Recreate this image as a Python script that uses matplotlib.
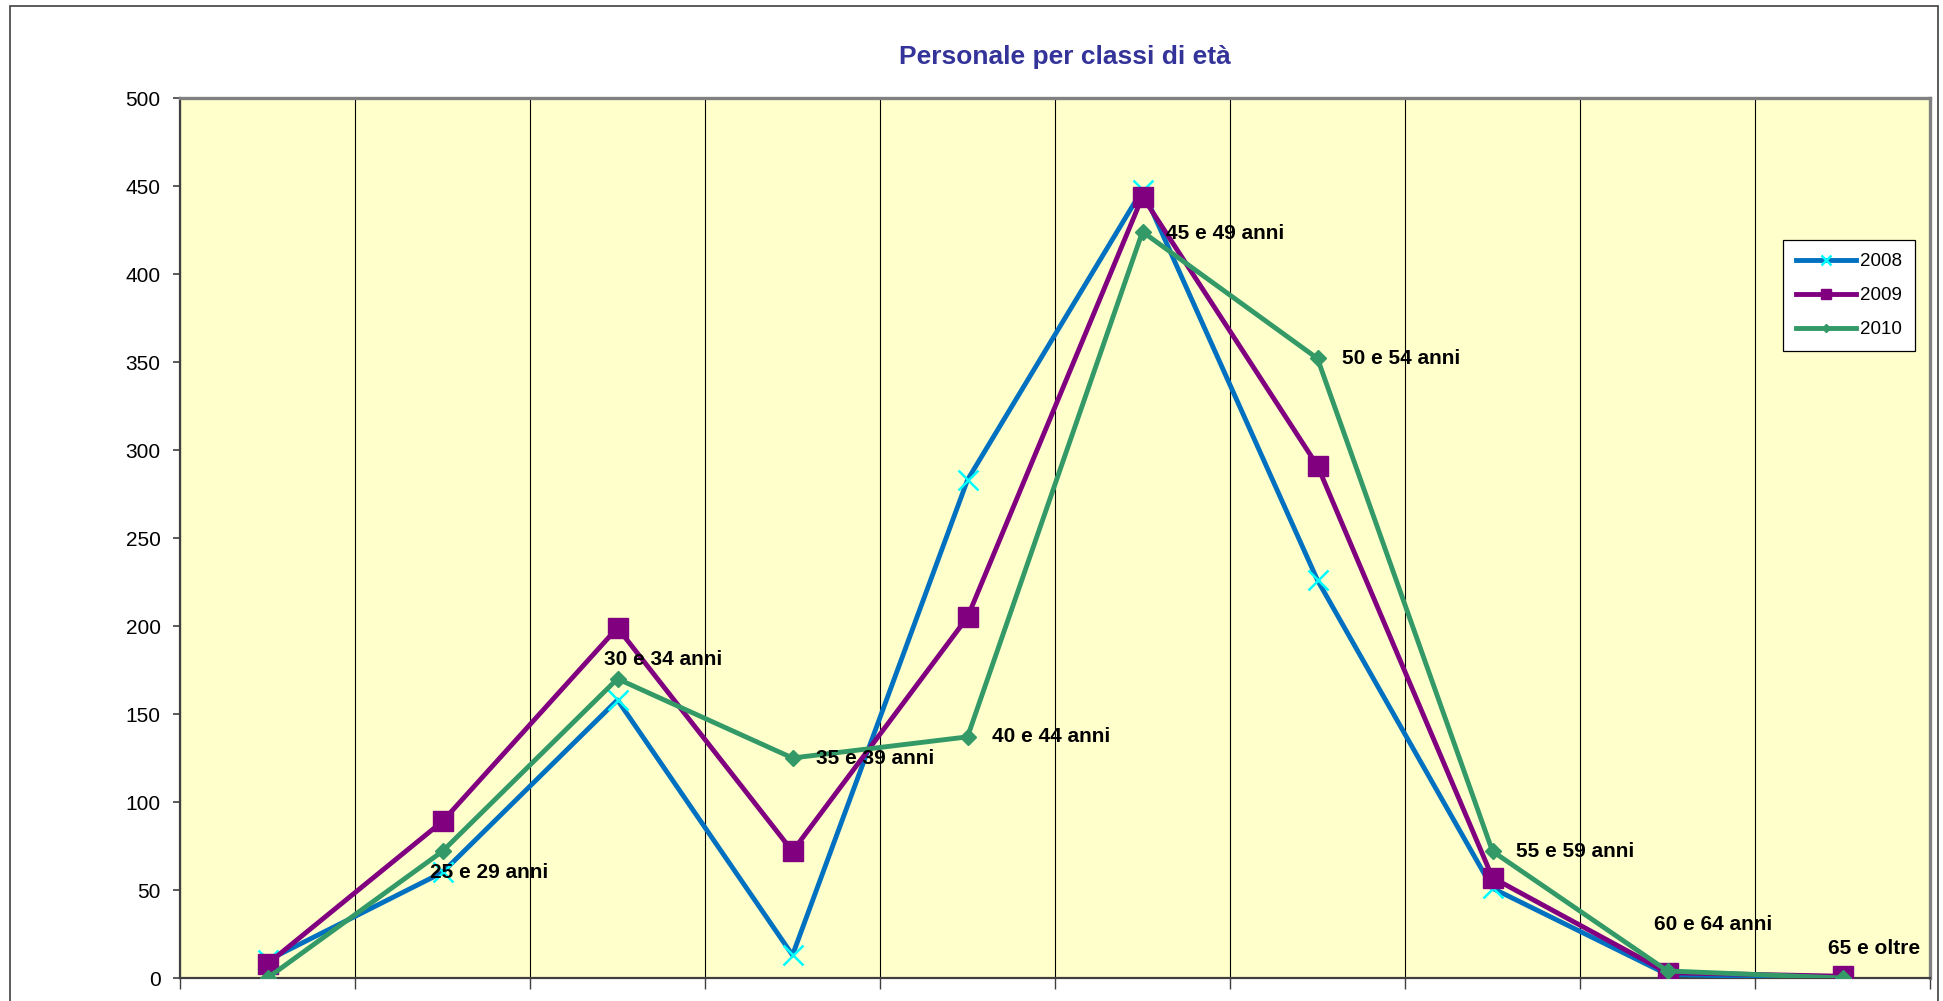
import numpy as np
import matplotlib
matplotlib.use('Agg')
import matplotlib.pyplot as plt
from matplotlib.patches import Rectangle

plt.rcParams['font.family'] = ['Liberation Sans', 'DejaVu Sans']

categories = ['fino a 24 anni', '25 e 29 anni', '30 e 34 anni', '35 e 39 anni', '40 e 44 anni',
              '45 e 49 anni', '50 e 54 anni', '55 e 59 anni', '60 e 64 anni', '65 e oltre']
y2008 = [10, 60, 158, 13, 283, 448, 226, 51, 2, 0]
y2009 = [8, 89, 199, 72, 205, 444, 291, 57, 3, 1]
y2010 = [0, 72, 170, 125, 137, 424, 352, 72, 4, 0]
shown_labels = [None, '25 e 29 anni', '30 e 34 anni', '35 e 39 anni', '40 e 44 anni',
                '45 e 49 anni', '50 e 54 anni', '55 e 59 anni', '60 e 64 anni', '65 e oltre']

# label offsets in pixels (dx, dy, ha)
label_pos = [None, (-12, -21, 'left'), (-14, 19, 'left'), (24, 0, 'left'), (25, 0, 'left'),
             (24, -2, 'left'), (25, 0, 'left'), (24, 0, 'left'), (46, 46, 'center'), (32, 29, 'center')]

fig = plt.figure(figsize=(19.43, 10.01), dpi=100)
ax = fig.add_axes([180/1943, 1-978/1001, 1750/1943, 880/1001])
ax.set_facecolor('#FFFFCC')

x = np.arange(len(categories))
ax.plot(x, y2008, color='#0070C0', lw=3.5, marker='x', ms=14, mec='#00FFFF', mew=1.8, label='2008', zorder=3)
ax.plot(x, y2009, color='#800080', lw=3.5, marker='s', ms=14, mec='#800080', mfc='#800080', label='2009', zorder=4)
ax.plot(x, y2010, color='#339966', lw=3.5, marker='D', ms=8, mec='#339966', mfc='#339966', label='2010', zorder=5)

for i, lab in enumerate(shown_labels):
    if lab is None:
        continue
    dx, dy, ha = label_pos[i]
    ax.annotate(lab, (x[i], y2010[i]), xytext=(dx, dy), textcoords='offset pixels',
                ha=ha, va='center', fontsize=15, fontweight='bold', color='black', zorder=6)

ax.set_xlim(-0.5, len(categories) - 0.5)
ax.set_ylim(0, 500)
ax.set_yticks(np.arange(0, 501, 50))
ax.set_xticks(np.arange(-0.5, len(categories), 1.0))
ax.set_xticklabels([])
ax.xaxis.grid(True, color='black', lw=0.8)
ax.set_axisbelow(True)
ax.tick_params(axis='y', labelsize=15, length=5, width=1.2, color='#404040', pad=9)
ax.tick_params(axis='x', length=8, width=1.0, color='#404040')

for s in ['left', 'bottom']:
    ax.spines[s].set_color('#404040')
    ax.spines[s].set_linewidth(1.6)
for s in ['top', 'right']:
    ax.spines[s].set_color('#808080')
    ax.spines[s].set_linewidth(2.4)

leg = ax.legend(loc='upper left', bbox_to_anchor=(0.916, 0.8386), borderaxespad=0, fontsize=13.5,
                handlelength=3.2, labelspacing=0.9, markerscale=0.55, fancybox=False,
                framealpha=1, edgecolor='black', borderpad=0.7, handletextpad=0.2)
leg.get_frame().set_linewidth(0.9)

fig.text(1065/1943, 1-57/1001, 'Personale per classi di età', ha='center', va='center',
         fontsize=19, fontweight='bold', color='#333399')

fig.patches.append(Rectangle((10/1943, -0.05), 1928/1943, 1.05 - 6/1001, transform=fig.transFigure,
                             fill=False, ec='#404040', lw=1.2))

fig.savefig('out.png', dpi=100)
